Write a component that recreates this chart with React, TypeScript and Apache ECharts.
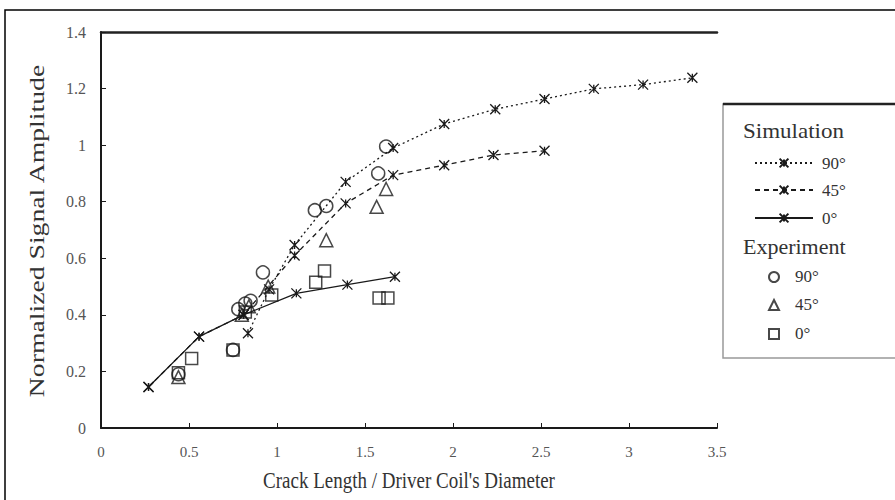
import React, { useEffect, useRef } from "react";
import * as echarts from "echarts";

// Simulation curves: [crack length / coil diameter, normalized amplitude]
const sim90: number[][] = [
  [0.835, 0.335], [0.955, 0.49], [1.10, 0.647], [1.39, 0.87], [1.66, 0.99],
  [1.95, 1.075], [2.24, 1.127], [2.52, 1.163], [2.80, 1.199], [3.08, 1.214], [3.36, 1.238],
];
const sim45: number[][] = [
  [0.27, 0.145], [0.557, 0.323], [0.81, 0.40], [1.10, 0.61], [1.39, 0.794],
  [1.66, 0.894], [1.95, 0.929], [2.23, 0.965], [2.52, 0.98],
];
const sim0: number[][] = [
  [0.27, 0.145], [0.557, 0.323], [0.81, 0.40], [1.11, 0.476], [1.40, 0.507], [1.67, 0.535],
];
// Experiment
const exp90: number[][] = [
  [0.44, 0.19], [0.75, 0.276], [0.78, 0.42], [0.82, 0.44], [0.85, 0.45], [0.92, 0.55],
  [1.215, 0.77], [1.28, 0.785], [1.575, 0.90], [1.62, 0.995],
];
const exp45: number[][] = [
  [0.44, 0.18], [0.80, 0.40], [0.84, 0.43], [0.95, 0.50], [1.28, 0.664], [1.566, 0.782], [1.62, 0.845],
];
const exp0: number[][] = [
  [0.44, 0.195], [0.515, 0.246], [0.75, 0.276], [0.82, 0.41], [0.97, 0.47],
  [1.22, 0.515], [1.27, 0.555], [1.58, 0.46], [1.63, 0.46],
];

const simNames = ["Sim 90", "Sim 45", "Sim 0"];
const expNames = ["Exp 90", "Exp 45", "Exp 0"];
const angleLabels = ["90°", "45°", "0°"];

const FONT = '"Liberation Serif", "DejaVu Serif", serif';
const INK = "#1a1a1a";
const STAR = "path://M0,0L10,10M10,0L0,10M5,1L5,9";

export default function App() {
  const ref = useRef<HTMLDivElement>(null);
  useEffect(() => {
    if (!ref.current) return;
    const chart = echarts.init(ref.current, undefined, { renderer: "svg" });
    const simSeries = (name: string, data: number[][], type: any) => ({
      name,
      type: "line",
      data,
      symbol: STAR,
      symbolSize: 10,
      itemStyle: { color: INK, borderColor: INK, borderWidth: 1.3 },
      lineStyle: { color: INK, width: 1.3, type },
      z: 3,
    });
    const expSeries = (name: string, data: number[][], symbol: string, size: number) => ({
      name,
      type: "scatter",
      data,
      symbol,
      symbolSize: size,
      itemStyle: { color: "rgba(255,255,255,0)", borderColor: INK, borderWidth: 1.5 },
      z: 4,
    });
    const simCenters = [163, 190, 218];
    const expCenters = [276, 304, 333];
    const legends: any[] = [];
    const labelTexts: any[] = [];
    simNames.forEach((n, i) => {
      legends.push({
        data: [n],
        left: 754,
        top: simCenters[i] - 5.5,
        padding: 0,
        itemWidth: 58,
        itemHeight: 11,
        formatter: () => "",
        selectedMode: false,
      });
      labelTexts.push({
        type: "text",
        x: 822,
        y: simCenters[i],
        style: { text: angleLabels[i], font: `17px ${FONT}`, fill: "#333", verticalAlign: "middle" },
      });
    });
    const expIcons = ["circle", "triangle", "rect"];
    expNames.forEach((n, i) => {
      legends.push({
        data: [{ name: n, icon: expIcons[i] }],
        left: 768,
        top: expCenters[i] - 5,
        padding: 0,
        itemWidth: 10,
        itemHeight: 10,
        formatter: () => "",
        selectedMode: false,
      });
      labelTexts.push({
        type: "text",
        x: 795,
        y: expCenters[i],
        style: { text: angleLabels[i], font: `17px ${FONT}`, fill: "#333", verticalAlign: "middle" },
      });
    });
    chart.setOption({
      animation: false,
      backgroundColor: "#fff",
      grid: { left: 101, top: 32, right: 178, bottom: 72, containLabel: false },
      xAxis: [
        {
          type: "value",
          min: 0,
          max: 3.5,
          interval: 0.5,
          axisLine: { show: true, lineStyle: { color: INK, width: 2 } },
          axisTick: { show: true, inside: true, length: 5, lineStyle: { color: INK } },
          axisLabel: { fontFamily: FONT, fontSize: 15, color: "#555", margin: 16 },
          splitLine: { show: false },
        },
        {
          type: "value",
          position: "top",
          min: 0,
          max: 3.5,
          axisLine: { show: true, lineStyle: { color: "#222", width: 2.5 } },
          axisTick: { show: false },
          axisLabel: { show: false },
          splitLine: { show: false },
        },
      ],
      yAxis: {
        type: "value",
        min: 0,
        max: 1.4,
        interval: 0.2,
        axisLine: { show: true, lineStyle: { color: INK, width: 2 } },
        axisTick: { show: true, inside: true, length: 5, lineStyle: { color: INK } },
        axisLabel: { fontFamily: FONT, fontSize: 16, color: "#555", margin: 15 },
        splitLine: { show: false },
      },
      legend: legends,
      graphic: [
        {
          type: "rect",
          shape: { x: 5, y: 10, width: 1000, height: 600 },
          style: { fill: "none", stroke: "#000", lineWidth: 1.5 },
          silent: true,
        },
        {
          type: "rect",
          shape: { x: 723, y: 104, width: 300, height: 254 },
          style: { fill: "#fff", stroke: "#999", lineWidth: 1.5 },
          silent: true,
          z: 0,
        },
        {
          type: "line",
          shape: { x1: 723, y1: 104, x2: 895, y2: 104 },
          style: { stroke: "#222", lineWidth: 2.5 },
          silent: true,
        },
        {
          type: "text",
          x: 743,
          y: 132,
          scaleX: 1.15,
          style: { text: "Simulation", font: `20px ${FONT}`, fill: "#333", verticalAlign: "middle" },
        },
        {
          type: "text",
          x: 743,
          y: 247,
          scaleX: 1.1,
          style: { text: "Experiment", font: `20px ${FONT}`, fill: "#333", verticalAlign: "middle" },
        },
        ...labelTexts,
        {
          type: "text",
          x: 409,
          y: 480,
          scaleY: 1.2,
          style: {
            text: "Crack Length / Driver Coil's Diameter",
            font: `19px ${FONT}`,
            fill: "#333",
            align: "center",
            verticalAlign: "middle",
          },
        },
        {
          type: "text",
          x: 37,
          y: 231,
          rotation: Math.PI / 2,
          scaleX: 1.32,
          style: {
            text: "Normalized Signal Amplitude",
            font: `21px ${FONT}`,
            fill: "#333",
            align: "center",
            verticalAlign: "middle",
          },
        },
      ],
      series: [
        simSeries("Sim 90", sim90, [2, 3]),
        simSeries("Sim 45", sim45, [5, 4]),
        simSeries("Sim 0", sim0, "solid"),
        expSeries("Exp 90", exp90, "circle", 13),
        expSeries("Exp 45", exp45, "triangle", 13),
        expSeries("Exp 0", exp0, "rect", 12),
      ],
    });
    return () => chart.dispose();
  }, []);
  return (
    <div
      ref={ref}
      style={{ position: "absolute", left: 0, top: 0, width: 895, height: 500 }}
    />
  );
}
